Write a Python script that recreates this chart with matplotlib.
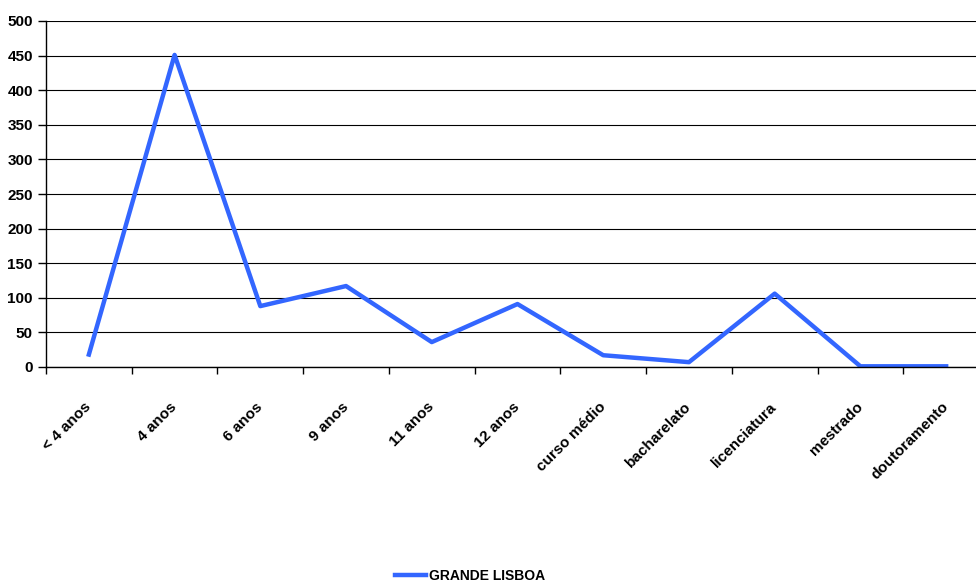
import matplotlib.pyplot as plt
import numpy as np

categories = ['< 4 anos', '4 anos', '6 anos', '9 anos', '11 anos', '12 anos',
              'curso médio', 'bacharelato', 'licenciatura', 'mestrado', 'doutoramento']
grande_lisboa = [18, 451, 88, 117, 36, 91, 17, 7, 106, 1, 1]

plt.rcParams['font.family'] = ['Liberation Sans', 'DejaVu Sans']
plt.rcParams['font.weight'] = 'bold'

fig = plt.figure(figsize=(9.76, 5.84), dpi=100)
# plot area runs a bit past the right edge, as in the original
ax = fig.add_axes([46/976, 1 - 367/584, 943/976, 346/584])

x = np.arange(len(categories))
ax.plot(x, grande_lisboa, color='#3366FF', linewidth=3.2, label='GRANDE LISBOA')

ax.set_xlim(-0.5, len(categories) - 0.5)
ax.set_ylim(0, 500)
ax.set_yticks(np.arange(0, 501, 50))
ax.yaxis.grid(True, color='black', linewidth=0.8)
ax.set_axisbelow(True)

# category ticks sit between the labels
ax.set_xticks(np.arange(-0.5, len(categories), 1))
ax.set_xticklabels([])
ax.set_xticks(x, minor=True)
ax.set_xticklabels(categories, minor=True, rotation=45, ha='right', va='center',
                   rotation_mode='anchor', fontsize=11)
ax.tick_params(axis='x', which='minor', length=0, pad=27)
ax.tick_params(axis='x', which='major', length=5, width=1, direction='out')
ax.tick_params(axis='y', length=6, width=1, direction='out', labelsize=11)

for s in ['top', 'right']:
    ax.spines[s].set_visible(False)
ax.spines['left'].set_linewidth(1)
ax.spines['bottom'].set_linewidth(1)

fig.legend(loc='center', bbox_to_anchor=(470/976, 1 - 576/584), frameon=False,
           fontsize=10, handlelength=2.2, handletextpad=0.2)

fig.savefig('out.png', dpi=100)
